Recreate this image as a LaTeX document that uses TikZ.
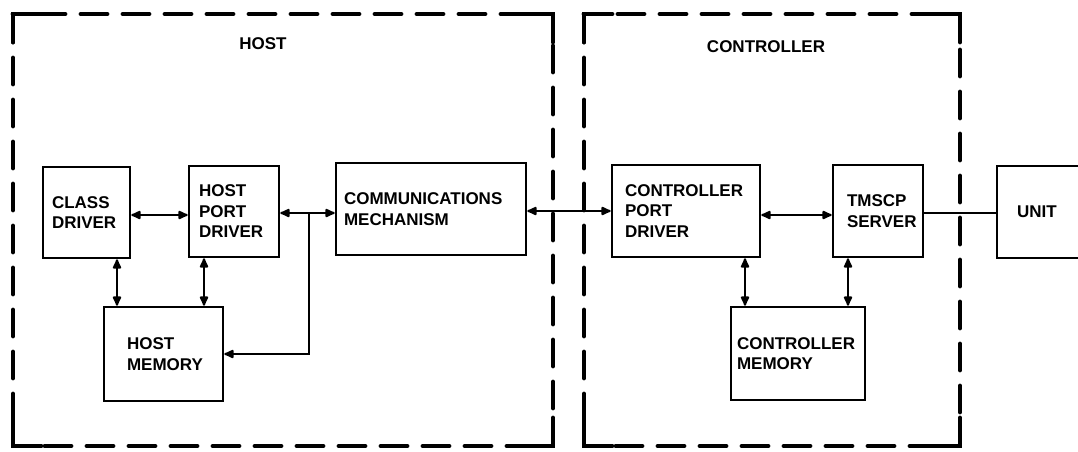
\documentclass[tikz,border=0pt]{standalone}
\usepackage{fontspec}
\setmainfont{Liberation Sans}
\usetikzlibrary{arrows.meta,calc}
\tikzset{
  blk/.style={draw, line width=2.6pt, rectangle, inner ysep=0pt, align=left,
    font=\bfseries\fontsize{17}{20.5}\selectfont},
  frame/.style={line width=4.8pt, dash pattern=on 26pt off 16pt, line cap=round},
  corner/.style={line width=4.8pt, line cap=round, line join=miter},
  conn/.style={line width=2pt, >={Latex[length=12pt,width=10pt,round]}},
  lbl/.style={font=\bfseries\fontsize{17}{20}\selectfont, inner sep=0pt}
}
\begin{document}
\begin{tikzpicture}[x=1pt,y=-1pt]
\useasboundingbox (0,0) rectangle (1078,451);
\clip (0,0) rectangle (1078,451);
% dashed frames
\draw[frame, dash phase=-2pt] (13,14) rectangle (553,446);
\draw[frame, dash phase=-2pt] (584,14) rectangle (960,446);
\foreach \xa/\xb in {13/553, 584/960}{
  \draw[corner] (\xa,42) -- (\xa,14) -- (\xa+28,14);
  \draw[corner] (\xb-28,14) -- (\xb,14) -- (\xb,42);
  \draw[corner] (\xa,418) -- (\xa,446) -- (\xa+28,446);
  \draw[corner] (\xb-28,446) -- (\xb,446) -- (\xb,418);
}
\node[lbl] (hostlbl) at (263,44) {HOST};
\node[lbl] (ctrllbl) at (766,47) {CONTROLLER};
% blocks
\node[blk, minimum height=91pt, text width=69pt, inner xsep=9pt] (class) at (86.5,212.5) {CLASS\\DRIVER};
\node[blk, minimum height=91pt, text width=70pt, inner xsep=10pt] (hostport) at (234,211.5) {HOST\\PORT\\DRIVER};
\node[blk, minimum height=94pt, text width=73pt, inner xsep=23pt] (hostmem) at (163.5,354) {HOST\\MEMORY};
\node[blk, minimum height=92pt, text width=174pt, inner xsep=8pt] (comm) at (431,209) {COMMUNICATIONS\\MECHANISM\\[4pt]};
\node[blk, minimum height=92pt, text width=122pt, inner xsep=13pt] (ctrlport) at (686,211) {CONTROLLER\\PORT\\DRIVER};
\node[blk, minimum height=92pt, text width=62pt, inner xsep=14pt] (tmscp) at (878,211) {TMSCP\\SERVER};
\node[blk, minimum height=93pt, text width=122pt, inner xsep=6pt] (ctrlmem) at (798,353.5) {CONTROLLER\\MEMORY};
\node[blk, minimum height=92pt, text width=63pt, inner xsep=20pt] (unit) at (1048.5,212) {UNIT};
% connectors
\draw[conn,<->] ([yshift=-2.5pt]class.east) -- ([yshift=-2.5pt]class.east -| hostport.west);
\draw[conn,<->] ([yshift=-1.5pt]hostport.east) -- ([yshift=-1.5pt]hostport.east -| comm.west);
\coordinate (j) at ([xshift=29pt,yshift=-1.5pt]hostport.east);
\draw[conn,->] (j) |- (hostmem.east);
\draw[conn,<->] ([yshift=-2pt]comm.east) -- ([yshift=-2pt]comm.east -| ctrlport.west);
\draw[conn,<->] ([yshift=-4pt]ctrlport.east) -- ([yshift=-4pt]ctrlport.east -| tmscp.west);
\draw[conn] ([yshift=-2pt]tmscp.east) -- ([yshift=-2pt]tmscp.east -| unit.west);
\draw[conn,<->] ([xshift=30.5pt]class.south) -- ([xshift=30.5pt]class.south |- hostmem.north);
\draw[conn,<->] ([xshift=-30pt]hostport.south) -- ([xshift=-30pt]hostport.south |- hostmem.north);
\draw[conn,<->] ([xshift=59pt]ctrlport.south) -- ([xshift=59pt]ctrlport.south |- ctrlmem.north);
\draw[conn,<->] ([xshift=-30pt]tmscp.south) -- ([xshift=-30pt]tmscp.south |- ctrlmem.north);
\end{tikzpicture}
\end{document}
